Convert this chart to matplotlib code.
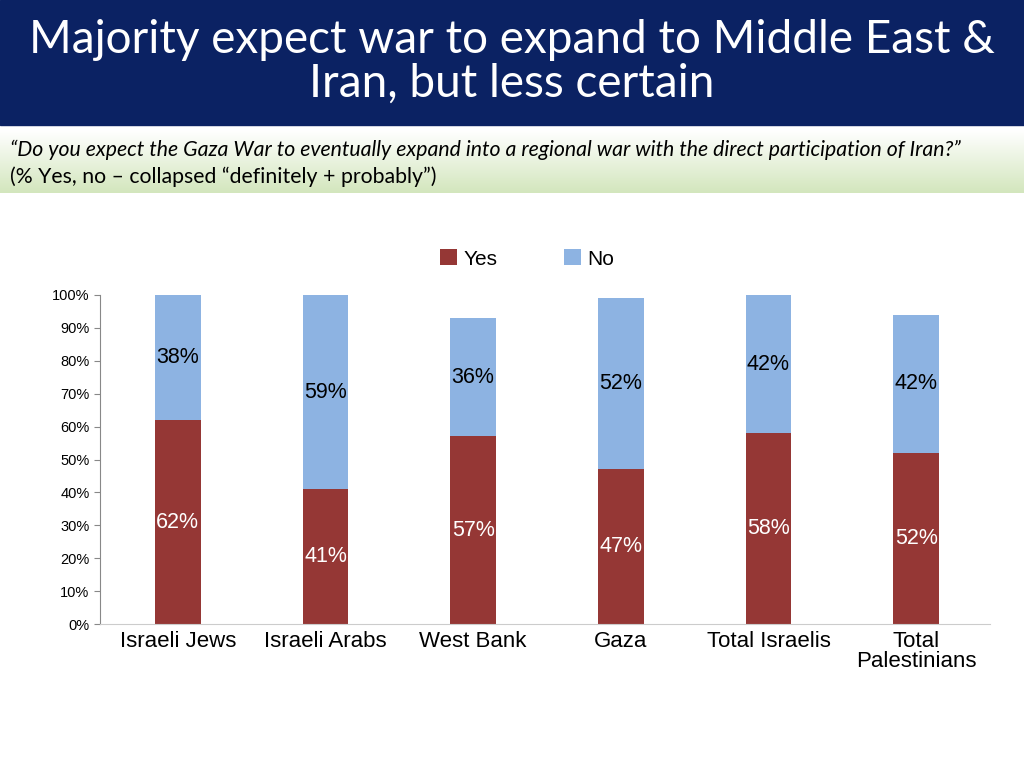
import matplotlib
matplotlib.use("Agg")
import matplotlib.pyplot as plt
import numpy as np
from matplotlib.patches import Rectangle

categories = ["Israeli Jews", "Israeli Arabs", "West Bank", "Gaza", "Total Israelis", "Total\nPalestinians"]
yes = [62, 41, 57, 47, 58, 52]
no = [38, 59, 36, 52, 42, 42]

fig = plt.figure(figsize=(10.24, 7.68), dpi=100)
fig.patches.append(Rectangle((0, 1 - 125/768), 1, 125/768, transform=fig.transFigure, color="#0b2263", zorder=0))
fig.text(0.5, 1 - 62/768, "Majority expect war to expand to Middle East &\nIran, but less certain", ha="center", va="center",
         color="white", fontsize=33, family="Lato", linespacing=1.05)
grad = np.linspace(0, 1, 100).reshape(-1, 1)
axg = fig.add_axes([0, 1 - 193/768, 1, 63/768])
axg.imshow(grad, aspect="auto", cmap=matplotlib.colors.LinearSegmentedColormap.from_list("g", ["#ffffff", "#d3e6bd"]),
           extent=[0, 1, 0, 1])
axg.axis("off")
fig.text(0.01, 1 - 150/768, "\u201cDo you expect the Gaza War to eventually expand into a regional war with the direct participation of Iran?\u201d",
         fontsize=15.3, style="italic", family="Lato", va="center")
fig.text(0.01, 1 - 177/768, "(% Yes, no \u2013 collapsed \u201cdefinitely + probably\u201d)", fontsize=15.3, family="Lato", va="center")

ax = fig.add_axes([100/1024, 144/768, 890/1024, 329/768])
x = np.arange(len(categories))
w = 0.31
b1 = ax.bar(x, yes, w, color="#953735", label="Yes")
b2 = ax.bar(x, no, w, bottom=yes, color="#8db3e2", label="No")
for i in range(len(x)):
    ax.text(x[i], yes[i] / 2, f"{yes[i]}%", ha="center", va="center", color="white", fontsize=15.5, family="Liberation Sans")
    ax.text(x[i], yes[i] + no[i] / 2, f"{no[i]}%", ha="center", va="center", color="black", fontsize=15.5, family="Liberation Sans")
ax.set_xlim(-0.527, 5.5)
ax.set_ylim(0, 100)
ax.set_yticks(range(0, 101, 10))
ax.set_yticklabels([f"{v}%" for v in range(0, 101, 10)], family="Liberation Sans", fontsize=10.5)
ax.set_xticks(x)
ax.set_xticklabels(categories, family="Liberation Sans", fontsize=16, linespacing=0.95)
ax.tick_params(axis="x", length=0, pad=5)
ax.tick_params(axis="y", length=4, direction="out", color="#888888")
for s in ["top", "right"]:
    ax.spines[s].set_visible(False)
ax.spines["left"].set_color("#888888")
ax.spines["bottom"].set_color("#cccccc")
fig.legend(handles=[b1, b2], labels=["Yes", "No"], loc="center", bbox_to_anchor=(527/1024, 1 - 259/768), ncol=2,
           frameon=False, prop={"family": "Liberation Sans", "size": 15}, handlelength=0.8, handleheight=0.8,
           columnspacing=3.2, handletextpad=0.3)
fig.savefig("out.png", dpi=100)
